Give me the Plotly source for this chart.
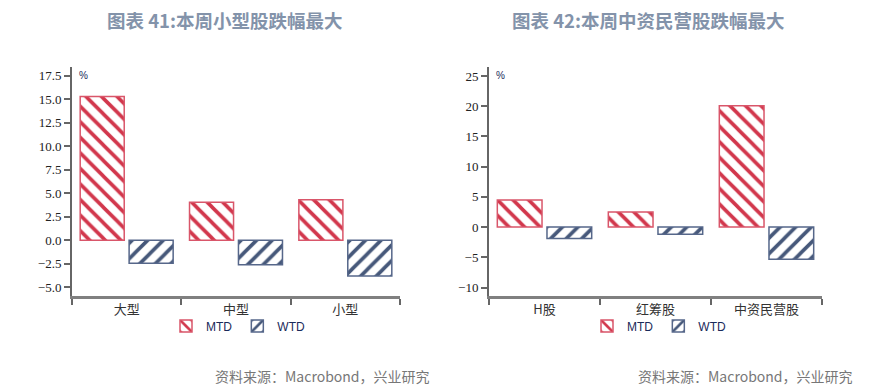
import plotly.graph_objects as go

# ---- data ----
left_categories = ["大型", "中型", "小型"]
left_mtd = [15.3, 4.05, 4.3]
left_wtd = [-2.45, -2.6, -3.8]

right_categories = ["H股", "红筹股", "中资民营股"]
right_mtd = [4.5, 2.5, 20.1]
right_wtd = [-1.9, -1.2, -5.3]

left_yticks = [-5.0, -2.5, 0.0, 2.5, 5.0, 7.5, 10.0, 12.5, 15.0, 17.5]
right_yticks = [-10, -5, 0, 5, 10, 15, 20, 25]

title_left = "图表 41:本周小型股跌幅最大"
title_right = "图表 42:本周中资民营股跌幅最大"
source_text = "资料来源：Macrobond，兴业研究"

# ---- styles ----
RED = "#d2374c"
RED_LINE = "#d9566a"
BLUE = "#46587a"
BLUE_LINE = "#56678a"

# page body has an 8px default margin: lay out in window pixels, compensate
OFF = 8
W, H = 895 - OFF, 392 - OFF


def px(x):
    return (x - OFF) / W


def py(y):
    return 1 - (y - OFF) / H


fig = go.Figure()


def add_pair(cats, mtd, wtd, xa, ya, legend):
    fig.add_trace(go.Bar(
        x=cats, y=mtd, name="MTD", xaxis=xa, yaxis=ya, legend=legend,
        marker=dict(color=RED, line=dict(color=RED_LINE, width=1.5),
                    pattern=dict(shape="\\", fgcolor=RED, bgcolor="white",
                                 size=11, solidity=0.33, fgopacity=1)),
        hoverinfo="x+y",
    ))
    fig.add_trace(go.Bar(
        x=cats, y=wtd, name="WTD", xaxis=xa, yaxis=ya, legend=legend,
        marker=dict(color=BLUE, line=dict(color=BLUE_LINE, width=1.5),
                    pattern=dict(shape="/", fgcolor=BLUE, bgcolor="white",
                                 size=11, solidity=0.33, fgopacity=1)),
        hoverinfo="x+y",
    ))


add_pair(left_categories, left_mtd, left_wtd, "x", "y", "legend")
add_pair(right_categories, right_mtd, right_wtd, "x2", "y2", "legend2")

ydom = [py(296), py(67)]
tickfont = dict(family="Liberation Serif, Times New Roman, serif", size=13, color="#222")
catfont = dict(family="Noto Sans CJK SC, sans-serif", size=13, color="#333")

xcommon = dict(type="category", range=[-0.5, 2.5], showline=True, linecolor="#808080",
               linewidth=2.5, ticks="outside", tickson="boundaries", ticklen=6,
               tickwidth=1.5, tickcolor="#666", tickfont=catfont, showgrid=False,
               zeroline=False, fixedrange=True)
ycommon = dict(showline=True, linecolor="#666", linewidth=2, ticks="outside",
               ticklen=6, tickwidth=1.5, tickcolor="#666", tickfont=tickfont,
               showgrid=False, zeroline=False, fixedrange=True, domain=ydom)

legcommon = dict(orientation="h", yanchor="middle", xanchor="left",
                 font=dict(family="Liberation Sans Narrow, Liberation Sans, sans-serif",
                           size=12, color="#1a2a5a"),
                 bgcolor="rgba(0,0,0,0)", itemclick=False, itemdoubleclick=False,
                 tracegroupgap=0)

fig.update_layout(
    width=W, height=H,
    margin=dict(l=0, r=0, t=0, b=0),
    paper_bgcolor="white", plot_bgcolor="white",
    barmode="group", bargap=0.105, bargroupgap=0.1,
    showlegend=True,
    xaxis=dict(domain=[px(72), px(400)], anchor="y", **xcommon),
    yaxis=dict(anchor="x", range=[-5.93, 18.43], tickvals=left_yticks,
               tickformat=".1f", **ycommon),
    xaxis2=dict(domain=[px(489), px(822)], anchor="y2", **xcommon),
    yaxis2=dict(anchor="x2", range=[-11.4, 26.5], tickvals=right_yticks, **ycommon),
    legend=dict(x=px(166), y=py(326), **legcommon),
    legend2=dict(x=px(587), y=py(326), **legcommon),
)

titlefont = dict(family="Noto Sans CJK SC, sans-serif", size=18.5, color="#8393aa", weight="bold")
fig.add_annotation(text="<b>" + title_left + "</b>", x=px(225), y=py(20),
                   xref="paper", yref="paper", showarrow=False, font=titlefont,
                   xanchor="center", yanchor="middle")
fig.add_annotation(text="<b>" + title_right + "</b>", x=px(648), y=py(20),
                   xref="paper", yref="paper", showarrow=False, font=titlefont,
                   xanchor="center", yanchor="middle")

# "%" unit labels
for xr, yr in (("x domain", "y domain"), ("x2 domain", "y2 domain")):
    fig.add_annotation(text="%", xref=xr, yref=yr, x=0.015, y=1 - 8 / (296 - 67),
                       showarrow=False, xanchor="left", yanchor="middle",
                       font=dict(family="Liberation Sans, sans-serif", size=10, color="#1a2a5a"))

srcfont = dict(family="Noto Sans CJK SC, sans-serif", size=14, color="#777")
fig.add_annotation(text=source_text, x=px(213), y=py(376), xref="paper", yref="paper",
                   showarrow=False, xanchor="left", yanchor="middle", font=srcfont)
fig.add_annotation(text=source_text, x=px(636), y=py(376), xref="paper", yref="paper",
                   showarrow=False, xanchor="left", yanchor="middle", font=srcfont)

fig.write_html("out.html", config={"displayModeBar": False})
